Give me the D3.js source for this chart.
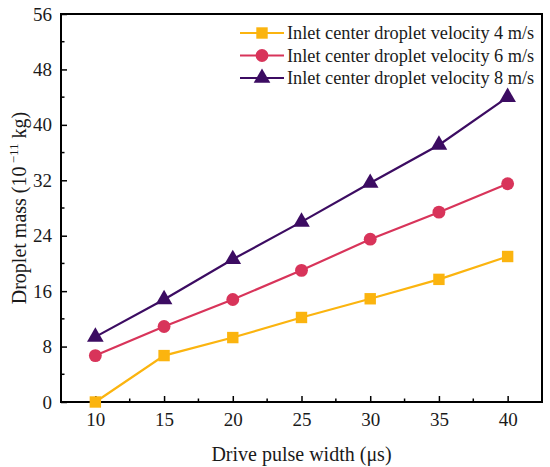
<!DOCTYPE html>
<html>
<head>
<meta charset="utf-8">
<script src="https://cdn.jsdelivr.net/npm/d3@7"></script>
<style>
  body { margin: 0; background: #fff; }
  svg { display: block; font-family: 'Liberation Serif', 'Times New Roman', serif; }
</style>
</head>
<body>
<svg id="chart" width="550" height="467"></svg>
<script>
const pulseWidths = [10, 15, 20, 25, 30, 35, 40];
const mass4 = [0, 6.7, 9.3, 12.2, 14.9, 17.7, 21.0];
const mass6 = [6.7, 10.9, 14.8, 19.0, 23.5, 27.4, 31.5];
const mass8 = [9.4, 14.8, 20.6, 26.0, 31.6, 37.1, 44.0];
const seriesNames = [
  'Inlet center droplet velocity 4 m/s',
  'Inlet center droplet velocity 6 m/s',
  'Inlet center droplet velocity 8 m/s'
];
const xTicks = [10, 15, 20, 25, 30, 35, 40];
const yTicks = [0, 8, 16, 24, 32, 40, 48, 56];

const series = [
  { name: seriesNames[0], values: mass4, color: '#fbb40f', symbol: d3.symbolSquare },
  { name: seriesNames[1], values: mass6, color: '#d8345a', symbol: d3.symbolCircle },
  { name: seriesNames[2], values: mass8, color: '#3c0c62', symbol: d3.symbolTriangle }
];

const margin = { left: 61, top: 14, right: 8, bottom: 65 };
const W = 550, H = 467;
const svg = d3.select('#chart');

const x = d3.scaleLinear().domain([7.5, 42.5]).range([margin.left, W - margin.right]);
const y = d3.scaleLinear().domain([0, 56]).range([H - margin.bottom, margin.top]);

// minor ticks (inward)
const xMinor = d3.range(12.5, 40, 5);
const yMinor = d3.range(4, 56, 8);

const g = svg.append('g');

// bottom axis
const xAxis = g.append('g')
  .attr('transform', `translate(0,${y(0)})`)
  .call(d3.axisBottom(x).tickValues(xTicks).tickSize(-6).tickPadding(11).tickFormat(d3.format('d')));
xAxis.select('.domain').remove();
xAxis.selectAll('line').attr('stroke', '#000').attr('stroke-width', 1.5);
xAxis.selectAll('text').attr('font-size', 19).attr('font-family', 'Liberation Serif').attr('fill', '#1a1a1a');
g.append('g').selectAll('line').data(xMinor).enter().append('line')
  .attr('x1', d => x(d)).attr('x2', d => x(d))
  .attr('y1', y(0)).attr('y2', y(0) - 3.5)
  .attr('stroke', '#000').attr('stroke-width', 1.5);

// left axis
const yAxis = g.append('g')
  .attr('transform', `translate(${x(7.5)},0)`)
  .call(d3.axisLeft(y).tickValues(yTicks).tickSize(-6).tickPadding(9));
yAxis.select('.domain').remove();
yAxis.selectAll('line').attr('stroke', '#000').attr('stroke-width', 1.5);
yAxis.selectAll('text').attr('font-size', 19).attr('font-family', 'Liberation Serif').attr('fill', '#1a1a1a');
g.append('g').selectAll('line').data(yMinor).enter().append('line')
  .attr('x1', x(7.5)).attr('x2', x(7.5) + 3.5)
  .attr('y1', d => y(d)).attr('y2', d => y(d))
  .attr('stroke', '#000').attr('stroke-width', 1.5);

// frame
g.append('rect')
  .attr('x', x(7.5)).attr('y', y(56))
  .attr('width', x(42.5) - x(7.5)).attr('height', y(0) - y(56))
  .attr('fill', 'none').attr('stroke', '#000').attr('stroke-width', 2);

// lines and markers
const line = d3.line().x((d, i) => x(pulseWidths[i])).y(d => y(d));
const symbolSize = s => s === d3.symbolTriangle ? 120 : 130;
series.forEach(s => {
  g.append('path').datum(s.values)
    .attr('d', line).attr('fill', 'none')
    .attr('stroke', s.color).attr('stroke-width', 2.2);
  g.append('g').selectAll('path').data(s.values).enter().append('path')
    .attr('transform', (d, i) => `translate(${x(pulseWidths[i])},${y(d)})`)
    .attr('d', d3.symbol().type(s.symbol).size(symbolSize(s.symbol)))
    .attr('fill', s.color);
});

// legend
const legend = g.append('g').attr('transform', 'translate(240,33)');
series.forEach((s, i) => {
  const row = legend.append('g').attr('transform', `translate(0,${i * 22.5})`);
  row.append('line').attr('x1', 0).attr('x2', 44).attr('stroke', s.color).attr('stroke-width', 2.2);
  row.append('path').attr('transform', 'translate(22,0)')
    .attr('d', d3.symbol().type(s.symbol).size(symbolSize(s.symbol)))
    .attr('fill', s.color);
  row.append('text').attr('x', 47).attr('dy', '0.35em')
    .attr('font-size', 18.3).attr('fill', '#1a1a1a').text(s.name);
});

// axis titles
svg.append('text')
  .attr('x', (x(7.5) + x(42.5)) / 2).attr('y', 461)
  .attr('text-anchor', 'middle').attr('font-size', 20).attr('fill', '#1a1a1a')
  .text('Drive pulse width (μs)');

const yt = svg.append('text')
  .attr('transform', `translate(26,${(y(0) + y(56)) / 2}) rotate(-90)`)
  .attr('text-anchor', 'middle').attr('font-size', 20).attr('fill', '#1a1a1a');
yt.append('tspan').text('Droplet mass (10');
yt.append('tspan').attr('dy', -8).attr('font-size', 13).text(' \u221211');
yt.append('tspan').attr('dy', 8).text(' kg)');
</script>
</body>
</html>
